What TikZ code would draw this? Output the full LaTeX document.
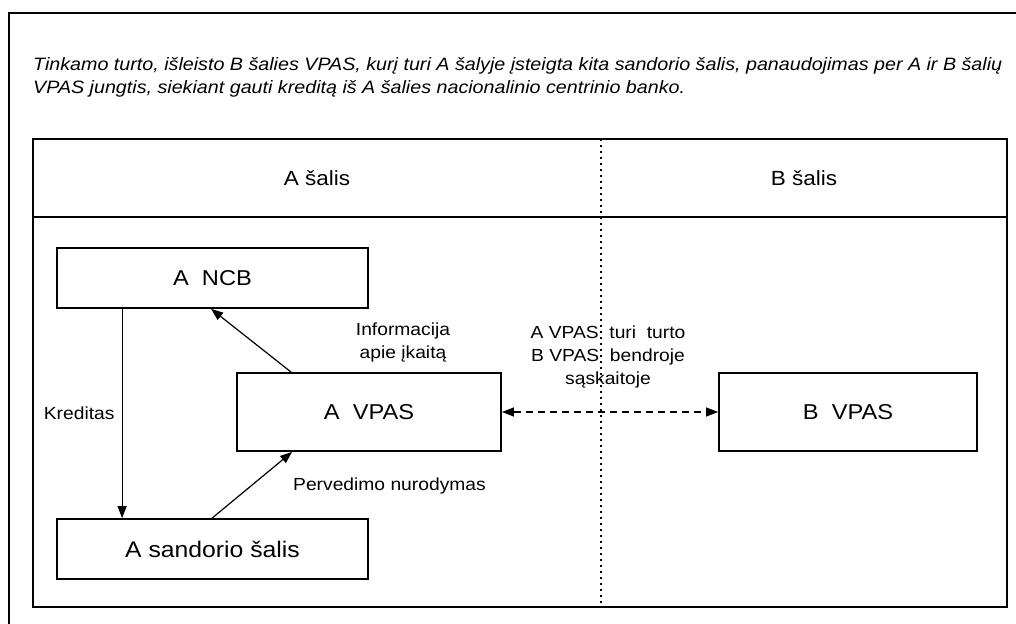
\documentclass[tikz,border=0pt]{standalone}
\usepackage{fontspec}
\setmainfont[FakeStretch=1.1]{Liberation Sans}
\usetikzlibrary{positioning}
\usetikzlibrary{arrows.meta}
\usetikzlibrary{calc}

\tikzset{
	box/.style = {draw, line width=1.8pt, minimum width=311pt, minimum height=60pt,
		inner sep=0pt, font=\fontsize{21.5}{24}\selectfont},
	lbl/.style = {font=\fontsize{17.5}{23}\selectfont, align=center, inner sep=1pt},
	flow/.style = {line width=1.2pt, -{Triangle[length=12pt,width=9pt]}}
}

\begin{document}
\begin{tikzpicture}[x=1pt, y=-1pt]
	\useasboundingbox (0,0) rectangle (1016,623);
	\begin{scope}
		\clip (0,0) rectangle (1016,623);
		\draw [line width=2.2pt] (9,640) -- (9,13) -- (1030,13);
	\end{scope}
	\node (title) [anchor=west, align=left, inner sep=0pt,
		font=\fontsize{17.9}{23}\selectfont\itshape] at (33,77)
		{Tinkamo turto, išleisto B šalies VPAS, kurį turi A šalyje įsteigta kita sandorio šalis, panaudojimas per A ir B šalių\\
		VPAS jungtis, siekiant gauti kreditą iš A šalies nacionalinio centrinio banko.};
	% lanes
	\draw [line width=2.2pt] (33,139) rectangle (1007,607);
	\draw [line width=2.2pt] (33,217) -- (1007,217);
	\draw [line width=2pt, dash pattern=on 1.6pt off 4.4pt] (601,139) -- (601,607);
	\node (laneA) [font=\fontsize{20.5}{24}\selectfont] at (317,178) {A šalis};
	\node (laneB) [font=\fontsize{20.5}{24}\selectfont] at (804,178) {B šalis};
	% boxes
	\node (ncb) [box] at (212.5,278) {A\ \ NCB};
	\node (vpasA) [box, minimum width=264pt, minimum height=78pt] at (369,412) {A\ \ VPAS};
	\node (cpty) [box, font=\fontsize{22.5}{24}\selectfont] at (212.5,549) {A sandorio šalis};
	\node (vpasB) [box, minimum width=258pt, minimum height=78pt] at (848,412) {B\ \ VPAS};
	% flows
	\draw [flow] ($(ncb.south west)+(66,0)$) -- node[lbl, left=6pt] {Kreditas} ($(cpty.north west)+(66,0)$);
	\draw [flow] ($(vpasA.north west)+(55,0)$) -- ($(ncb.south west)+(155,0)$);
	\draw [flow] ($(cpty.north west)+(156,0)$) -- ($(vpasA.south west)+(56,0)$);
	\draw [line width=1.2pt, dash pattern=on 7pt off 5pt,
		{Triangle[length=12pt,width=9pt]}-{Triangle[length=12pt,width=9pt]}] (vpasA.east) -- (vpasB.west);
	\node (info) [lbl] at (403,342) {Informacija\\apie įkaitą};
	\node (perv) [lbl, anchor=west] at (292,486) {Pervedimo nurodymas};
	\node (acct) [lbl] at (608,357) {A VPAS\ \ turi\ \ turto\\B VPAS\ \ bendroje\\sąskaitoje};
\end{tikzpicture}
\end{document}
